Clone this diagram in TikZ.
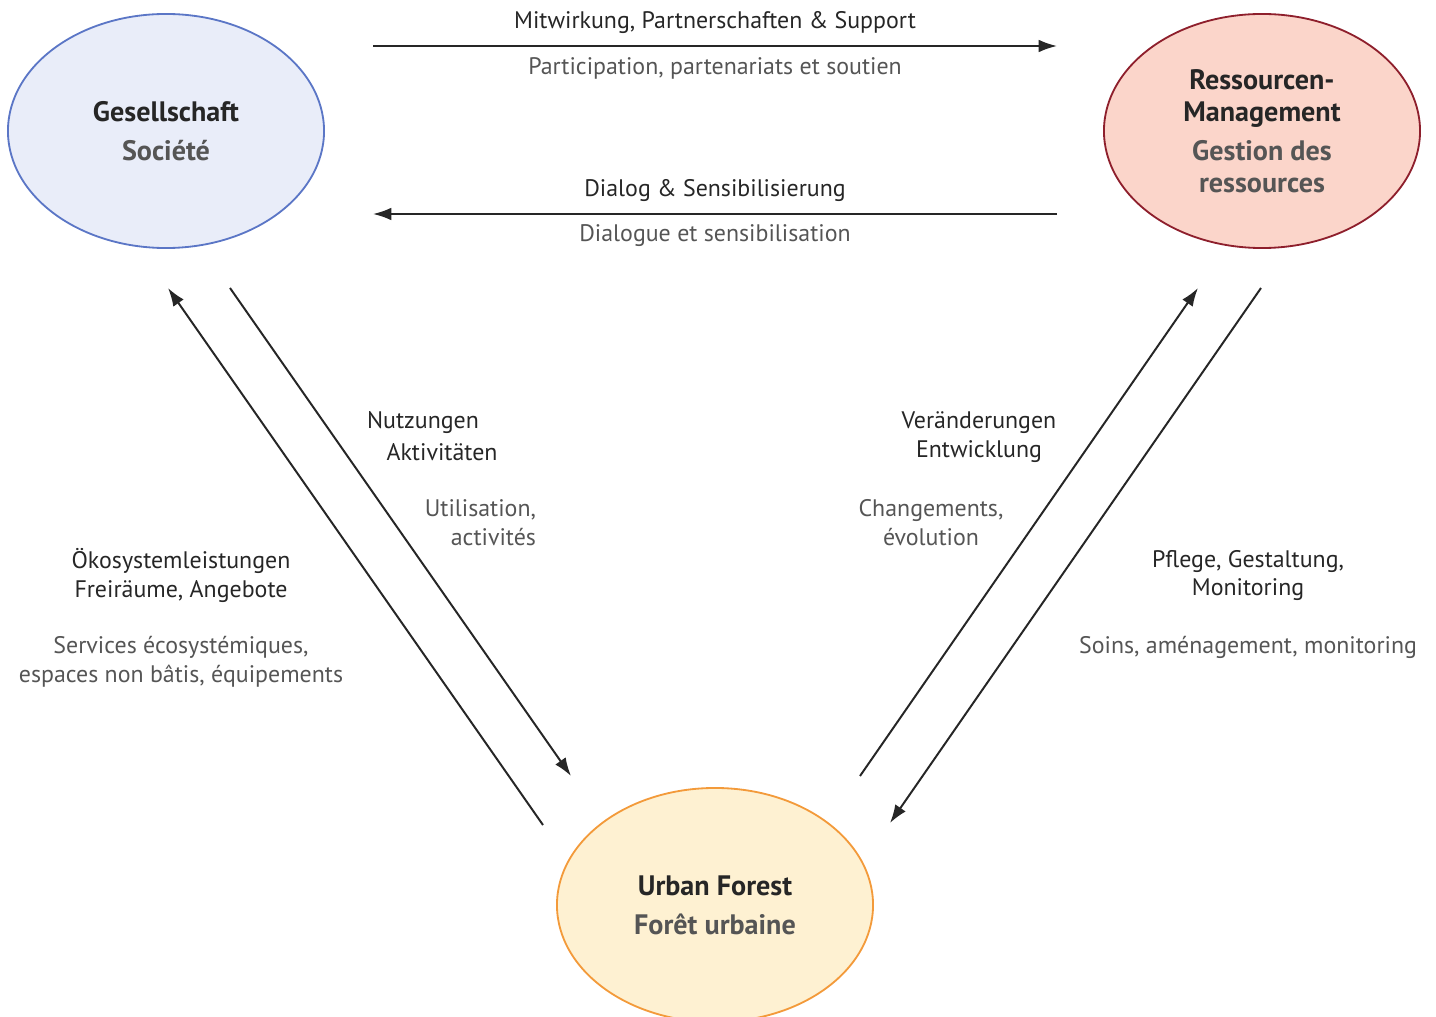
\documentclass[tikz,border=0pt]{standalone}
\usepackage{fontspec}
\setmainfont{PT Sans}
\usetikzlibrary{positioning,shapes.geometric,arrows.meta}

\definecolor{socline}{HTML}{5B76C6}
\definecolor{socfill}{HTML}{E9EDF9}
\definecolor{resline}{HTML}{8E1F2C}
\definecolor{resfill}{HTML}{FBD5CA}
\definecolor{forline}{HTML}{F39A3A}
\definecolor{forfill}{HTML}{FEF1D2}
\definecolor{textde}{HTML}{262626}
\definecolor{textfr}{HTML}{555555}
\definecolor{flowcol}{HTML}{262626}

\begin{document}
\begin{tikzpicture}[%
      x=0.025cm, y=-0.025cm,
      every node/.style={inner sep=0pt, outer sep=0pt},
      >={Latex[length=13pt,width=9pt]},
      sphere/.style={ellipse, line width=1.3pt, minimum width=7.9cm, minimum height=5.85cm,
                     align=center, text=textde, font=\bfseries\fontsize{20}{22.7}\selectfont},
      de/.style={text=textde, align=center, font=\fontsize{17}{20.5}\selectfont},
      fr/.style={text=textfr, align=center, font=\fontsize{17}{20.5}\selectfont},
      flow/.style={->, line width=1.4pt, draw=flowcol}
    ]
    \useasboundingbox (0,0) rectangle (1436,1017);

    % the three spheres
    \node [sphere, draw=socline, fill=socfill] (soc) at (166,131)
        {Gesellschaft\\[5pt]\textcolor{textfr}{Société}};
    \node [sphere, draw=resline, fill=resfill] (res) at (1262,131)
        {Ressourcen-\\Management\\[5pt]\textcolor{textfr}{Gestion des}\\\textcolor{textfr}{ressources}};
    \node [sphere, draw=forline, fill=forfill] (for) at (715,905)
        {Urban Forest\\[5pt]\textcolor{textfr}{Forêt urbaine}};

    % free ends of the flows
    \coordinate (sup-a) at (373,46);
    \coordinate (sup-b) at (1057,46);
    \coordinate (dlg-a) at (1057,214);
    \coordinate (dlg-b) at (373,214);
    \coordinate (eco-a) at (543,825);
    \coordinate (eco-b) at (168,288);
    \coordinate (use-a) at (230,288);
    \coordinate (use-b) at (571,776);
    \coordinate (chg-a) at (860,776);
    \coordinate (chg-b) at (1198,288);
    \coordinate (care-a) at (1261,288);
    \coordinate (care-b) at (890,823);

    \draw [flow] (sup-a) -- (sup-b);
    \draw [flow] (dlg-a) -- (dlg-b);
    \draw [flow] (eco-a) -- (eco-b);
    \draw [flow] (use-a) -- (use-b);
    \draw [flow] (chg-a) -- (chg-b);
    \draw [flow] (care-a) -- (care-b);

    % labels
    \node [de] (supde) at (715,23) {Mitwirkung, Partnerschaften \& Support};
    \node [fr] (supfr) at (715,68) {Participation, partenariats et soutien};
    \node [de] (dlgde) at (715,191) {Dialog \& Sensibilisierung};
    \node [fr] (dlgfr) at (715,236) {Dialogue et sensibilisation};

    \node [de] (usede1) at (423,423) {Nutzungen};
    \node [de] (usede2) at (442,452) {Aktivitäten};
    \node [fr, align=right, anchor=east] (usefr) at (536,523) {Utilisation,\\activités};

    \node [de] (chgde) at (979,437.5) {Veränderungen\\Entwicklung};
    \node [fr] (chgfr) at (931,523) {Changements,\\évolution};

    \node [de] (ecode) at (181,575.5) {Ökosystemleistungen\\Freiräume, Angebote};
    \node [fr] (ecofr) at (181,661.5) {Services écosystémiques,\\espaces non bâtis, équipements};

    \node [de] (carede) at (1248,575.5) {Pflege, Gestaltung,\\Monitoring};
    \node [fr] (carefr) at (1248,647) {Soins, aménagement, monitoring};
\end{tikzpicture}
\end{document}
